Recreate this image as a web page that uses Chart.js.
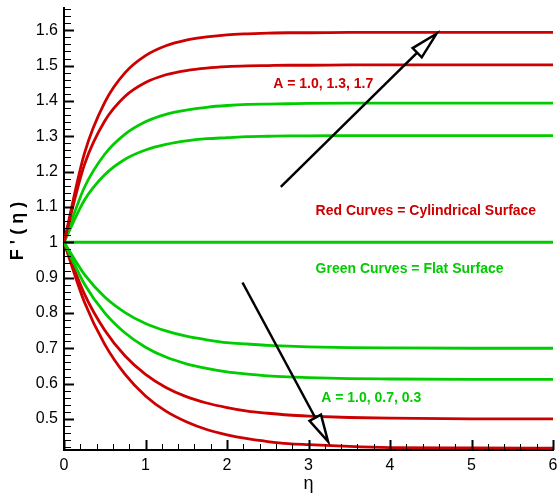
<!DOCTYPE html>
<html lang="en">
<head>
  <meta charset="UTF-8" />
  <title>F'(eta) profiles</title>
  <script src="https://cdn.jsdelivr.net/npm/chart.js"></script>
  <style>
    body {
      margin: 0;
      background: #fff;
    }
    canvas {
      display: block;
    }
  </style>
</head>
<body>
  <canvas id="profileChart" width="558" height="495"></canvas>

  <script>
    // eta positions the curves were read at
    const eta = [0, 0.25, 0.5, 0.75, 1, 1.25, 1.5, 1.75, 2, 2.25, 2.5, 2.75, 3, 3.5, 4, 5, 6];

    // red = cylindrical surface, green = flat surface
    const redUpper1   = [1.000, 1.251, 1.396, 1.480, 1.528, 1.556, 1.572, 1.581, 1.587, 1.590, 1.592, 1.593, 1.593, 1.594, 1.594, 1.594, 1.594];
    const redUpper2   = [1.000, 1.219, 1.343, 1.413, 1.452, 1.474, 1.486, 1.493, 1.497, 1.499, 1.500, 1.501, 1.501, 1.502, 1.502, 1.502, 1.502];
    const greenUpper1 = [1.000, 1.155, 1.249, 1.306, 1.341, 1.362, 1.374, 1.382, 1.387, 1.390, 1.391, 1.392, 1.393, 1.394, 1.394, 1.394, 1.394];
    const greenUpper2 = [1.000, 1.119, 1.191, 1.235, 1.261, 1.277, 1.287, 1.293, 1.296, 1.299, 1.300, 1.301, 1.301, 1.302, 1.302, 1.302, 1.302];
    const greenMiddle = [1.000, 1.000, 1.000, 1.000, 1.000, 1.000, 1.000, 1.000, 1.000, 1.000, 1.000, 1.000, 1.000, 1.000, 1.000, 1.000, 1.000];
    const greenLower1 = [1.000, 0.909, 0.845, 0.801, 0.770, 0.749, 0.734, 0.724, 0.716, 0.712, 0.708, 0.706, 0.704, 0.702, 0.701, 0.700, 0.700];
    const greenLower2 = [1.000, 0.882, 0.800, 0.743, 0.703, 0.675, 0.656, 0.643, 0.633, 0.627, 0.622, 0.619, 0.617, 0.614, 0.613, 0.612, 0.612];
    const redLower1   = [1.000, 0.854, 0.751, 0.678, 0.626, 0.589, 0.563, 0.545, 0.532, 0.522, 0.516, 0.511, 0.508, 0.504, 0.502, 0.500, 0.500];
    const redLower2   = [1.000, 0.831, 0.711, 0.626, 0.565, 0.522, 0.492, 0.470, 0.455, 0.444, 0.436, 0.430, 0.427, 0.422, 0.419, 0.418, 0.417];

    const xTicks = [0, 1, 2, 3, 4, 5, 6];
    const xTickLabels = ['0', '1', '2', '3', '4', '5', '6'];
    const yTicks = [0.5, 0.6, 0.7, 0.8, 0.9, 1.0, 1.1, 1.2, 1.3, 1.4, 1.5, 1.6];
    const yTickLabels = ['0.5', '0.6', '0.7', '0.8', '0.9', '1', '1.1', '1.2', '1.3', '1.4', '1.5', '1.6'];

    const RED = '#cc0000';
    const GREEN = '#00cc00';

    const series = [
      { values: redUpper1, color: RED },
      { values: redUpper2, color: RED },
      { values: greenUpper1, color: GREEN },
      { values: greenUpper2, color: GREEN },
      { values: greenMiddle, color: GREEN },
      { values: greenLower1, color: GREEN },
      { values: greenLower2, color: GREEN },
      { values: redLower1, color: RED },
      { values: redLower2, color: RED }
    ];

    // notes drawn on the plot, placed in data units
    const notes = [
      { text: 'A = 1.0, 1.3, 1.7', x: 3.18, y: 1.448, color: RED },
      { text: 'Red Curves = Cylindrical Surface', x: 4.44, y: 1.087, color: RED },
      { text: 'Green Curves = Flat Surface', x: 4.24, y: 0.924, color: GREEN },
      { text: 'A = 1.0, 0.7, 0.3', x: 3.77, y: 0.560, color: GREEN }
    ];
    const arrows = [
      { from: [2.66, 1.157], to: [4.57, 1.590] },
      { from: [2.19, 0.886], to: [3.24, 0.436] }
    ];

    const decorPlugin = {
      id: 'decor',
      afterDatasetsDraw(chart) {
        const { ctx, scales: { x, y } } = chart;
        ctx.save();
        ctx.font = 'bold 14px "Liberation Sans", Arial, sans-serif';
        ctx.textAlign = 'center';
        ctx.textBaseline = 'middle';
        notes.forEach(n => {
          ctx.fillStyle = n.color;
          ctx.fillText(n.text, x.getPixelForValue(n.x), y.getPixelForValue(n.y));
        });

        arrows.forEach(a => {
          const x0 = x.getPixelForValue(a.from[0]), y0 = y.getPixelForValue(a.from[1]);
          const x1 = x.getPixelForValue(a.to[0]), y1 = y.getPixelForValue(a.to[1]);
          const ang = Math.atan2(y1 - y0, x1 - x0);
          const headLen = 27, headHalf = 6.5;
          const bx = x1 - headLen * Math.cos(ang), by = y1 - headLen * Math.sin(ang);
          ctx.strokeStyle = '#000';
          ctx.lineWidth = 2.5;
          ctx.beginPath();
          ctx.moveTo(x0, y0);
          ctx.lineTo(bx, by);
          ctx.stroke();
          ctx.beginPath();
          ctx.moveTo(x1, y1);
          ctx.lineTo(bx + headHalf * Math.sin(ang), by - headHalf * Math.cos(ang));
          ctx.lineTo(bx - headHalf * Math.sin(ang), by + headHalf * Math.cos(ang));
          ctx.closePath();
          ctx.fillStyle = '#fff';
          ctx.fill();
          ctx.lineJoin = 'miter';
          ctx.stroke();
        });
        ctx.restore();
      },
      afterDraw(chart) {
        const { ctx, chartArea: area, scales: { x, y } } = chart;
        ctx.save();
        ctx.strokeStyle = '#000';

        // tick marks point inwards
        const mark = (px, py, dx, dy, w) => {
          ctx.lineWidth = w;
          ctx.beginPath();
          ctx.moveTo(px, py);
          ctx.lineTo(px + dx, py + dy);
          ctx.stroke();
        };
        for (let i = 0; i <= 30; i++) {
          const v = i * 0.2;
          const px = Math.round(x.getPixelForValue(v)) + 0.5;
          if (i % 5 === 0) mark(px, area.bottom, 0, -10, 2);
          else mark(px, area.bottom, 0, -6, 1);
        }
        for (let i = 21; i <= 83; i++) {
          const v = i * 0.02;
          if (v < y.min - 1e-9 || v > y.max + 1e-9) continue;
          const py = Math.round(y.getPixelForValue(v)) + 0.5;
          if (i % 5 === 0) mark(area.left, py, 10, 0, 2);
          else mark(area.left, py, 7, 0, 1);
        }

        // axis titles
        ctx.fillStyle = '#000';
        ctx.textAlign = 'center';
        ctx.textBaseline = 'middle';
        ctx.font = '18px "Liberation Sans", Arial, sans-serif';
        ctx.fillText('η', (area.left + area.right) / 2, 484);
        ctx.translate(18, (area.top + area.bottom) / 2 + 2);
        ctx.rotate(-Math.PI / 2);
        ctx.font = 'bold 18px "Liberation Sans", Arial, sans-serif';
        ctx.fillText("F ' ( η )", 0, 0);
        ctx.restore();
      }
    };

    new Chart(document.getElementById('profileChart').getContext('2d'), {
      type: 'line',
      data: {
        datasets: series.map(s => ({
          data: s.values.map((v, i) => ({ x: eta[i], y: v })),
          borderColor: s.color,
          borderWidth: 2.8,
          pointRadius: 0,
          fill: false,
          cubicInterpolationMode: 'monotone'
        }))
      },
      options: {
        responsive: false,
        animation: false,
        layout: { padding: { left: 0, right: 5, top: 8, bottom: 0 } },
        plugins: {
          legend: { display: false },
          tooltip: { enabled: false }
        },
        scales: {
          x: {
            type: 'linear',
            min: 0,
            max: 6,
            grid: { display: false, drawTicks: false },
            border: { display: true, color: '#000', width: 2 },
            afterBuildTicks: s => { s.ticks = xTicks.map(v => ({ value: v })); },
            afterFit: s => { s.height = 45; s.paddingLeft = 0; s.paddingRight = 0; },
            ticks: {
              padding: 6,
              color: '#000',
              maxRotation: 0,
              font: { family: '"Liberation Sans", Arial, sans-serif', size: 16 },
              callback: (v, i) => xTickLabels[i]
            }
          },
          y: {
            type: 'linear',
            min: 0.412,
            max: 1.663,
            grid: { display: false, drawTicks: false },
            border: { display: true, color: '#000', width: 2 },
            afterBuildTicks: s => { s.ticks = yTicks.map(v => ({ value: v })); },
            afterFit: s => { s.width = 64; s.paddingTop = 0; s.paddingBottom = 0; },
            ticks: {
              padding: 6,
              color: '#000',
              font: { family: '"Liberation Sans", Arial, sans-serif', size: 16 },
              callback: (v, i) => yTickLabels[i]
            }
          }
        }
      },
      plugins: [decorPlugin]
    });
  </script>
</body>
</html>
